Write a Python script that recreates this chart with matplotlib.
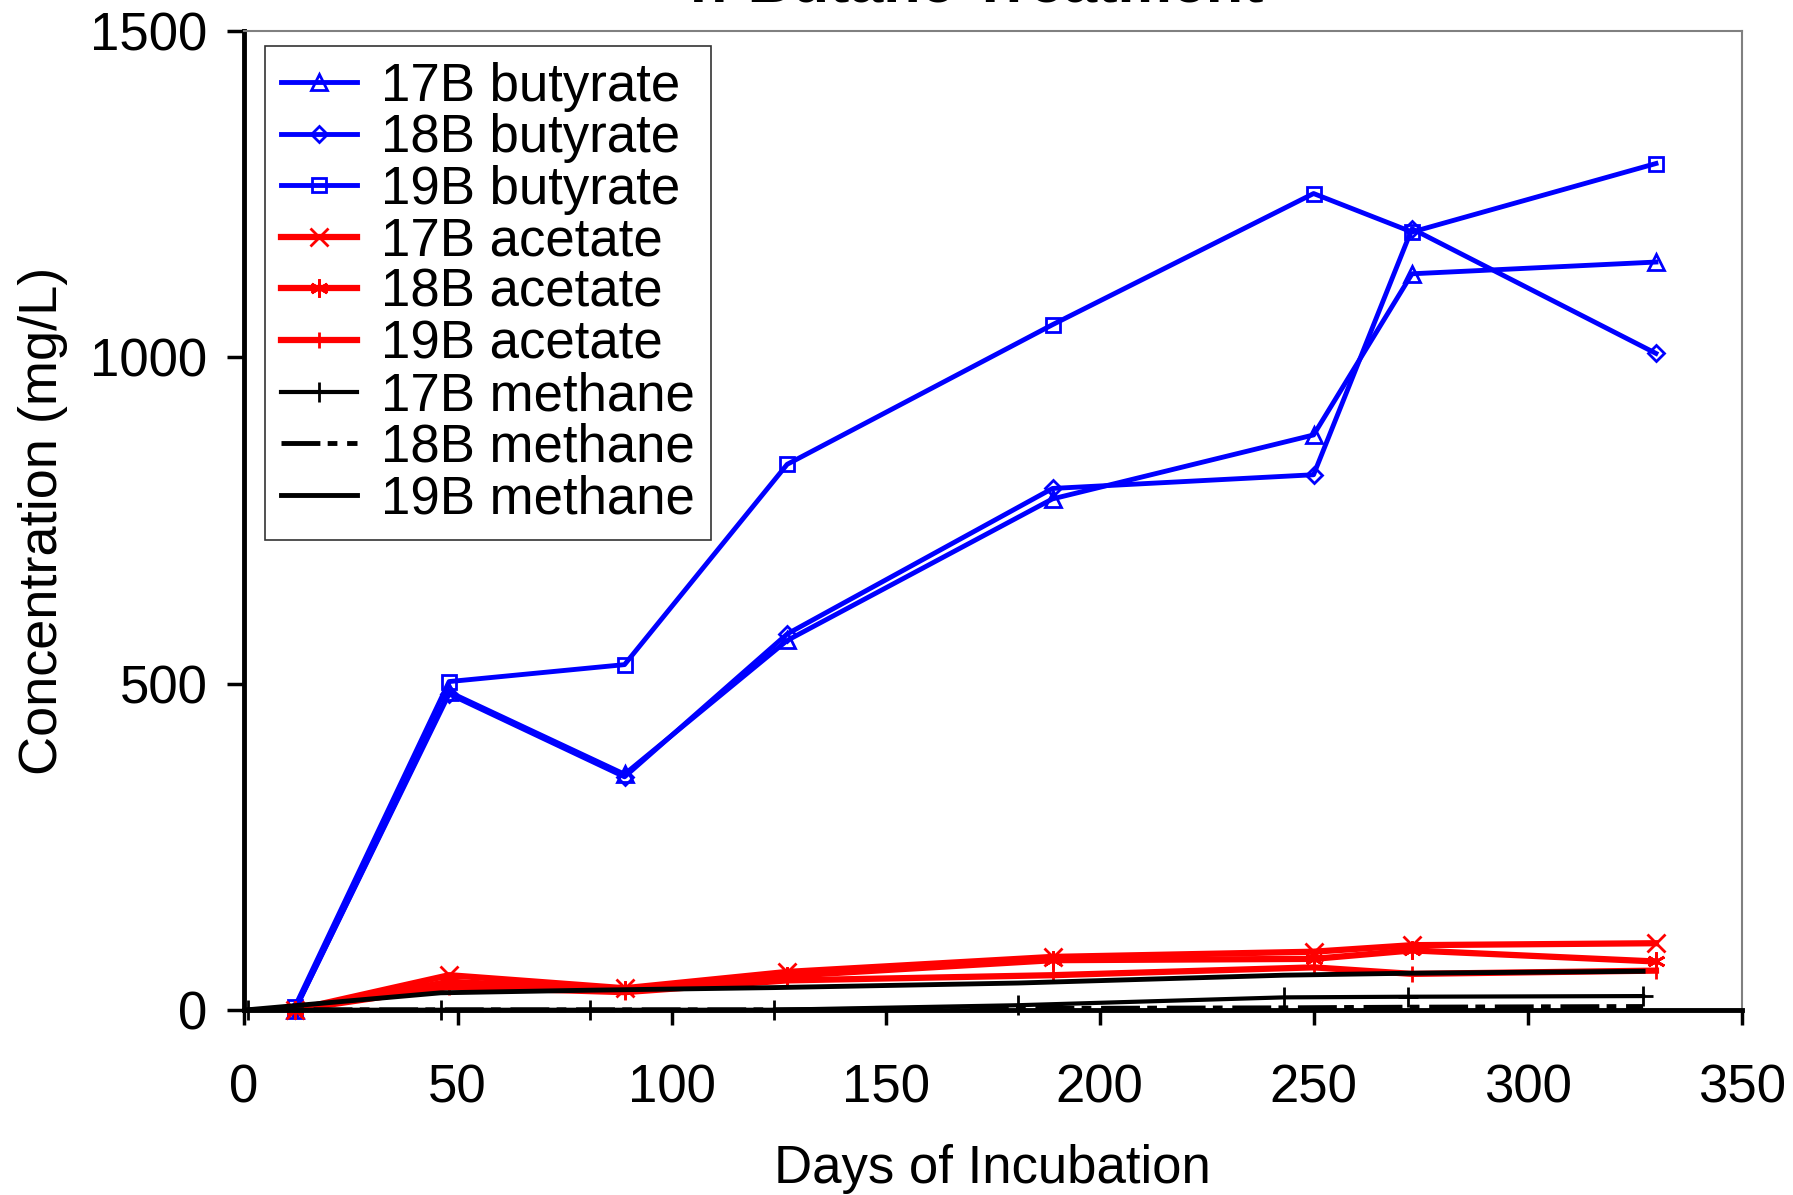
import matplotlib
matplotlib.use("Agg")
from matplotlib import pyplot as plt

plt.rcParams['font.family'] = ['Liberation Sans', 'DejaVu Sans']

# sampling days
days_vfa = [12, 48, 89, 127, 189, 250, 273, 330]
days_ch4 = [1, 46, 81, 124, 181, 243, 272, 327]

# butyrate (mg/L)
but_17b = [0, 487, 361, 566, 783, 881, 1128, 1146]
but_18b = [0, 484, 357, 576, 799, 820, 1197, 1006]
but_19b = [5, 503, 529, 836, 1050, 1251, 1192, 1297]

# acetate (mg/L)
ace_17b = [0, 53, 33, 58, 81, 89, 99, 102]
ace_18b = [0, 43, 30, 52, 76, 78, 91, 74]
ace_19b = [0, 35, 27, 45, 53, 65, 55, 60]

# methane (mg/L)
ch4_17b = [0, 0, 0, 0, 7, 19, 20, 21]
ch4_18b = [0, 0, 0, 0, 2, 3, 4, 5]
ch4_19b = [0, 26, 30, 34, 41, 53, 56, 59]

fig = plt.figure(figsize=(17.93, 11.95), dpi=100)
ax = fig.add_axes([0.1359, 0.155, 0.8354, 0.819])

blue = '#0000ff'
red = '#ff0000'
mk = dict(fillstyle='none', markeredgewidth=2, clip_on=False)

ax.plot(days_vfa, but_17b, color=blue, lw=3.5, marker='^', ms=11, label='17B butyrate', **mk)
ax.plot(days_vfa, but_18b, color=blue, lw=3.5, marker='D', ms=8, label='18B butyrate', **mk)
ax.plot(days_vfa, but_19b, color=blue, lw=3.5, marker='s', ms=10, label='19B butyrate', **mk)
ax.plot(days_vfa, ace_17b, color=red, lw=4.5, marker='x', ms=13, label='17B acetate', **mk)
ax.plot(days_vfa, ace_18b, color=red, lw=4.5, marker=(6, 2, 0), ms=13, label='18B acetate', **mk)
ax.plot(days_vfa, ace_19b, color=red, lw=4.5, marker='|', ms=11, label='19B acetate', **mk)
ax.plot(days_ch4, ch4_17b, color='black', lw=3, marker='+', ms=15, label='17B methane', **mk)
ax.plot(days_ch4, ch4_18b, color='black', lw=3.5, dashes=(8, 1.5, 2, 2), label='18B methane', clip_on=False)
ax.plot(days_ch4, ch4_19b, color='black', lw=3.5, label='19B methane', clip_on=False)

ax.set_xlim(0, 350)
ax.set_ylim(0, 1500)
ax.set_xticks([0, 50, 100, 150, 200, 250, 300, 350])
ax.set_yticks([0, 500, 1000, 1500])

for s in ['left', 'bottom']:
    ax.spines[s].set_linewidth(3.5)
    ax.spines[s].set_color('black')
for s in ['top', 'right']:
    ax.spines[s].set_linewidth(1.5)
    ax.spines[s].set_color('#808080')

ax.tick_params(axis='y', direction='out', length=12, width=2.5, pad=14, labelsize=38)
ax.tick_params(axis='x', direction='out', length=11, width=2.5, pad=28, labelsize=38)

ax.set_xlabel('Days of Incubation', fontsize=38, labelpad=22)
ax.set_ylabel('Concentration (mg/L)', fontsize=39, labelpad=16)

leg = ax.legend(loc='upper left', bbox_to_anchor=(0.0143, 0.985), borderaxespad=0,
                fontsize=38, frameon=True, fancybox=False, labelspacing=0.03,
                handlelength=1.45, handletextpad=0.45, borderpad=0.3)
leg.get_frame().set_edgecolor('black')
leg.get_frame().set_linewidth(1.2)

# title is mostly cut off at the top edge in the original
fig.text(0.545, 1 - 1 / 1195, 'n-Butane Treatment', ha='center', va='baseline',
         fontsize=44, fontweight='bold')

fig.savefig('out.png', dpi=100)
